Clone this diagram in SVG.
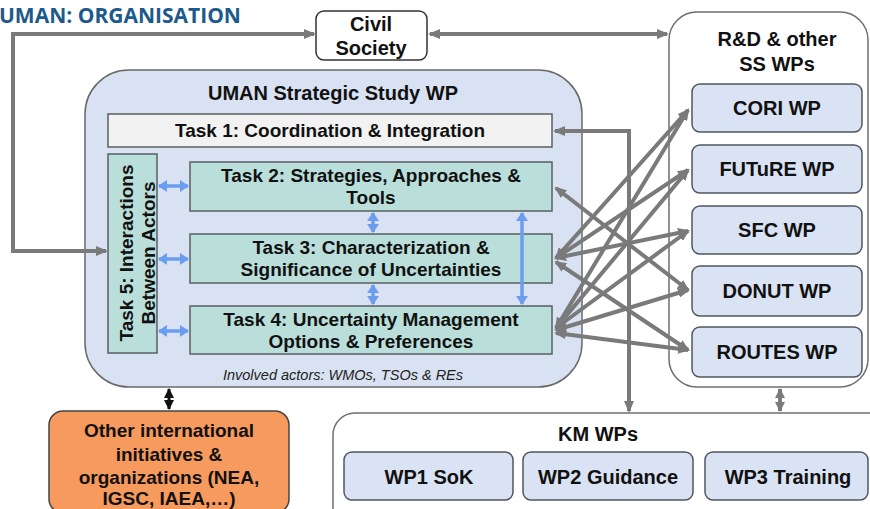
<svg xmlns="http://www.w3.org/2000/svg" width="870" height="509" viewBox="0 0 870 509">
  <style>
    .lbl { font-family: "Liberation Sans", Arial, sans-serif; font-weight: bold; fill: #111; text-anchor: middle; }
    .f20 { font-size: 20px; }
    .f19 { font-size: 19px; }
    .note { font-family: "Liberation Sans", Arial, sans-serif; font-style: italic; font-size: 14.5px; fill: #222; text-anchor: middle; }
    .title { font-family: "Open Sans", "Liberation Sans", sans-serif; font-weight: bold; font-size: 21px; fill: #1d5a8c; }
    .wp { fill: #dae3f3; stroke: #505560; stroke-width: 1.5; }
    .task { fill: #badfdb; stroke: #5a5f60; stroke-width: 1.5; }
    .grey { fill: none; stroke: #7a7a7a; stroke-width: 4; }
    .blue { fill: none; stroke: #6a9cf0; stroke-width: 3.5; }
    .blk { fill: none; stroke: #111; stroke-width: 3; }
  </style>
  <defs>
    <marker id="ag" viewBox="0 0 12 10" refX="10" refY="5" markerWidth="12" markerHeight="10" markerUnits="userSpaceOnUse" orient="auto-start-reverse">
      <path d="M0,0 L12,5 L0,10 z" fill="#7a7a7a"/>
    </marker>
    <marker id="ags" viewBox="0 0 10 10" refX="9" refY="5" markerWidth="10" markerHeight="10" markerUnits="userSpaceOnUse" orient="auto-start-reverse">
      <path d="M0,0 L10,5 L0,10 z" fill="#7a7a7a"/>
    </marker>
    <marker id="ab" viewBox="0 0 9 12" refX="8" refY="6" markerWidth="9" markerHeight="12" markerUnits="userSpaceOnUse" orient="auto-start-reverse">
      <path d="M0,0 L9,6 L0,12 z" fill="#6a9cf0"/>
    </marker>
    <marker id="ak" viewBox="0 0 10 10" refX="9" refY="5" markerWidth="10" markerHeight="10" markerUnits="userSpaceOnUse" orient="auto-start-reverse">
      <path d="M0,0 L10,5 L0,10 z" fill="#111"/>
    </marker>
  </defs>

  <rect width="870" height="509" fill="#ffffff"/>

  <text class="title" x="-1" y="23">UMAN: ORGANISATION</text>

  <!-- R&D and other SS work packages -->
  <g id="rd-group">
    <rect x="669" y="12" width="199" height="375" rx="28" fill="#ffffff" stroke="#6f6f6f" stroke-width="1.5"/>
    <text class="lbl f20" x="777" y="46">R&amp;D &amp; other</text>
    <text class="lbl f20" x="777" y="71">SS WPs</text>
  </g>
  <g id="cori"><rect class="wp" x="692" y="84" width="170" height="48" rx="8"/><text class="lbl f20" x="777" y="115">CORI WP</text></g>
  <g id="future"><rect class="wp" x="692" y="145" width="170" height="48" rx="8"/><text class="lbl f20" x="777" y="176">FUTuRE WP</text></g>
  <g id="sfc"><rect class="wp" x="692" y="206" width="170" height="48" rx="8"/><text class="lbl f20" x="777" y="237">SFC WP</text></g>
  <g id="donut"><rect class="wp" x="692" y="266" width="170" height="50" rx="8"/><text class="lbl f20" x="777" y="298">DONUT WP</text></g>
  <g id="routes"><rect class="wp" x="692" y="327" width="170" height="50" rx="8"/><text class="lbl f20" x="777" y="359">ROUTES WP</text></g>

  <!-- KM work packages -->
  <g id="km-group">
    <rect x="333" y="413" width="560" height="130" rx="22" fill="#ffffff" stroke="#6f6f6f" stroke-width="1.5"/>
    <text class="lbl f20" x="598" y="441">KM WPs</text>
  </g>
  <g id="wp1"><rect class="wp" x="344" y="452" width="169" height="48" rx="8"/><text class="lbl f20" x="429" y="484">WP1 SoK</text></g>
  <g id="wp2"><rect class="wp" x="523" y="452" width="170" height="48" rx="8"/><text class="lbl f20" x="608" y="484">WP2 Guidance</text></g>
  <g id="wp3"><rect class="wp" x="705" y="452" width="163" height="48" rx="8"/><text class="lbl f20" x="788" y="484">WP3 Training</text></g>

  <!-- Civil society -->
  <g id="civil">
    <rect x="316" y="11" width="111" height="49" rx="8" fill="#ffffff" stroke="#333" stroke-width="1.5"/>
    <text class="lbl f20" x="371" y="31">Civil</text>
    <text class="lbl f20" x="371" y="55">Society</text>
  </g>

  <!-- UMAN strategic study WP -->
  <g id="uman-ss">
    <rect x="85" y="70" width="497" height="317" rx="44" fill="#d9e2f2" stroke="#6a6a6a" stroke-width="1.5"/>
    <text class="lbl f20" x="333" y="100">UMAN Strategic Study WP</text>
    <text class="note" x="343" y="380">Involved actors: WMOs, TSOs &amp; REs</text>
  </g>
  <g id="task1">
    <rect x="108" y="114" width="444" height="33" fill="#f2f2f2" stroke="#5a5f60" stroke-width="1.5"/>
    <text class="lbl f19" x="330" y="137">Task 1: Coordination &amp; Integration</text>
  </g>
  <g id="task5">
    <rect class="task" x="108" y="154" width="49" height="199"/>
    <text class="lbl f19" transform="translate(133,253) rotate(-90)">Task 5: Interactions</text>
    <text class="lbl f19" transform="translate(155,253) rotate(-90)">Between Actors</text>
  </g>
  <g id="task2">
    <rect class="task" x="190" y="162" width="362" height="49"/>
    <text class="lbl f19" x="371" y="182">Task 2: Strategies, Approaches &amp;</text>
    <text class="lbl f19" x="371" y="204">Tools</text>
  </g>
  <g id="task3">
    <rect class="task" x="190" y="234" width="362" height="49"/>
    <text class="lbl f19" x="371" y="254">Task 3: Characterization &amp;</text>
    <text class="lbl f19" x="371" y="276">Significance of Uncertainties</text>
  </g>
  <g id="task4">
    <rect class="task" x="190" y="306" width="362" height="48"/>
    <text class="lbl f19" x="371" y="326">Task 4: Uncertainty Management</text>
    <text class="lbl f19" x="371" y="348">Options &amp; Preferences</text>
  </g>

  <!-- Other international initiatives -->
  <g id="intl">
    <rect x="49" y="411" width="240" height="102" rx="14" fill="#f79a5e" stroke="#444" stroke-width="1.5"/>
    <text class="lbl f19" x="169" y="437">Other international</text>
    <text class="lbl f19" x="169" y="461">initiatives &amp;</text>
    <text class="lbl f19" x="169" y="484">organizations (NEA,</text>
    <text class="lbl f19" x="169" y="505">IGSC, IAEA,…)</text>
  </g>

  <!-- connectors -->
  <g id="connectors">
    <path class="grey" d="M106,251 L13,251 L13,34 L314,34" marker-start="url(#ag)" marker-end="url(#ag)"/>
    <path class="grey" d="M430,34 L667,34" marker-start="url(#ag)" marker-end="url(#ag)"/>
    <path class="grey" d="M555,131 L629,131 L629,411" marker-start="url(#ag)" marker-end="url(#ag)"/>
    <path class="grey" d="M780,389 L780,411" marker-start="url(#ags)" marker-end="url(#ags)"/>
    <path class="blk" d="M169,389 L169,409" marker-start="url(#ak)" marker-end="url(#ak)"/>

    <!-- task 5 links -->
    <path class="blue" d="M159,186 L188,186" marker-start="url(#ab)" marker-end="url(#ab)"/>
    <path class="blue" d="M159,259 L188,259" marker-start="url(#ab)" marker-end="url(#ab)"/>
    <path class="blue" d="M159,331 L188,331" marker-start="url(#ab)" marker-end="url(#ab)"/>
    <!-- links between tasks 2, 3 and 4 -->
    <path class="blue" d="M373,213 L373,232" marker-start="url(#ab)" marker-end="url(#ab)"/>
    <path class="blue" d="M373,285 L373,304" marker-start="url(#ab)" marker-end="url(#ab)"/>
    <path class="blue" d="M522,213 L522,304" marker-start="url(#ab)" marker-end="url(#ab)"/>

    <!-- task to R&D work package links -->
    <path class="grey" d="M556,188 L688,290" marker-start="url(#ag)" marker-end="url(#ag)"/>
    <path class="grey" d="M556,258 L688,110" marker-start="url(#ag)" marker-end="url(#ag)"/>
    <path class="grey" d="M556,258 L688,170" marker-start="url(#ag)" marker-end="url(#ag)"/>
    <path class="grey" d="M556,258 L688,231" marker-start="url(#ag)" marker-end="url(#ag)"/>
    <path class="grey" d="M556,262 L688,350" marker-start="url(#ag)" marker-end="url(#ag)"/>
    <path class="grey" d="M556,328 L688,110" marker-start="url(#ag)" marker-end="url(#ag)"/>
    <path class="grey" d="M556,328 L688,170" marker-start="url(#ag)" marker-end="url(#ag)"/>
    <path class="grey" d="M556,328 L688,231" marker-start="url(#ag)" marker-end="url(#ag)"/>
    <path class="grey" d="M556,330 L688,290" marker-start="url(#ag)" marker-end="url(#ag)"/>
    <path class="grey" d="M556,333 L688,350" marker-start="url(#ag)" marker-end="url(#ag)"/>
  </g>
</svg>
